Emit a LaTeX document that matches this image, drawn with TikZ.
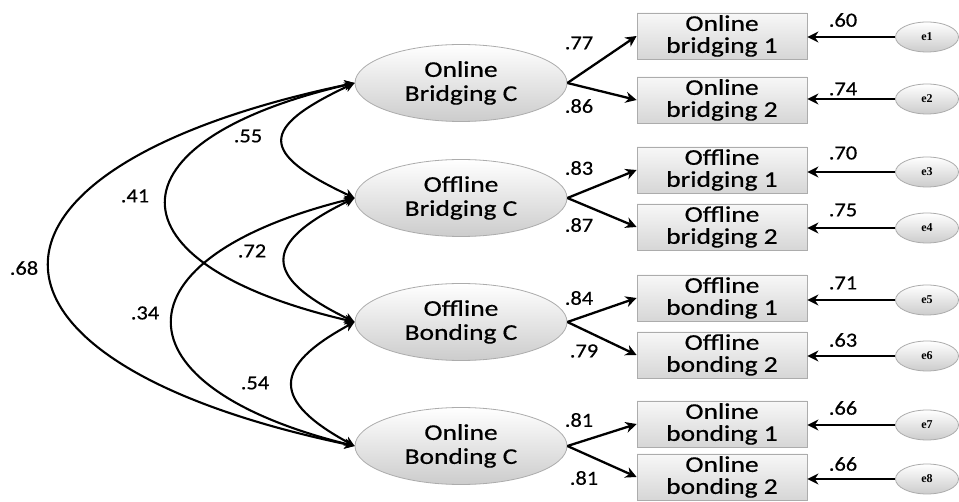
\documentclass[tikz,border=0pt]{standalone}
\usepackage{fontspec}
\setmainfont{Carlito}
\newfontfamily\wfont[FakeStretch=1.22,FakeBold=0.5]{Carlito}
\newfontfamily\lfont[FakeStretch=1.12,FakeBold=0.5]{Carlito}
\newfontfamily\efont{Liberation Serif}
\usetikzlibrary{shapes.geometric,arrows.meta}

\begin{document}
\begin{tikzpicture}[x=1pt,y=-1pt,
 latent/.style={ellipse, draw=gray!65, line width=0.8pt, top color=white, bottom color=gray!40, minimum width=212pt, minimum height=77pt, inner sep=0pt, align=center, font=\wfont\fontsize{22.5}{24}\selectfont},
 obs/.style={rectangle, draw=gray!65, line width=0.8pt, top color=gray!6, bottom color=gray!32, minimum width=170pt, minimum height=46pt, inner sep=0pt, align=center, font=\wfont\fontsize{22.5}{22}\selectfont},
 err/.style={ellipse, draw=gray!65, line width=0.8pt, top color=white, bottom color=gray!40, minimum width=63pt, minimum height=30pt, inner sep=0pt, font=\efont\bfseries\fontsize{12}{14}\selectfont},
 pathline/.style={-{Stealth[length=11pt,width=11pt,inset=3.5pt]}, line width=2.3pt},
 covline/.style={{Stealth[length=10pt,width=10pt,inset=3pt]}-{Stealth[length=10pt,width=10pt,inset=3pt]}, line width=2.1pt},
 lab/.style={font=\lfont\fontsize{20}{22}\selectfont, inner sep=0pt}
]
\fill[white] (0,0) rectangle (959,502);
\useasboundingbox (0,0) rectangle (959,502);

% latent variables
\node[latent] (L1) at (461,83) {Online\\Bridging C};
\node[latent] (L2) at (461,198) {Offline\\Bridging C};
\node[latent] (L3) at (461,322) {Offline\\Bonding C};
\node[latent] (L4) at (461,446) {Online\\Bonding C};

% observed variables
\node[obs] (B1) at (722,36) {Online\\bridging 1};
\node[obs] (B2) at (722,100) {Online\\bridging 2};
\node[obs] (B3) at (722,170) {Offline\\bridging 1};
\node[obs] (B4) at (722,227) {Offline\\bridging 2};
\node[obs] (B5) at (722,298) {Offline\\bonding 1};
\node[obs] (B6) at (722,355) {Offline\\bonding 2};
\node[obs] (B7) at (722,424) {Online\\bonding 1};
\node[obs] (B8) at (722,477) {Online\\bonding 2};

% error terms
\node[err] (e1) at (927,37) {e1};
\node[err] (e2) at (927,99) {e2};
\node[err] (e3) at (927,172) {e3};
\node[err] (e4) at (927,228) {e4};
\node[err] (e5) at (927,300) {e5};
\node[err] (e6) at (927,356) {e6};
\node[err] (e7) at (927,425) {e7};
\node[err] (e8) at (927,479) {e8};

% loadings
\foreach \l/\a/\b in {L1/B1/B2, L2/B3/B4, L3/B5/B6, L4/B7/B8}{
  \draw[pathline] (\l.east) -- (\a.west);
  \draw[pathline] (\l.east) -- (\b.west);
}
\foreach \i in {1,...,8}{
  \draw[pathline] (e\i.west) -- (B\i.east |- e\i.west);
}

% covariances
\draw[covline] (L1.west) .. controls +(-96,45) and +(-96,-45) .. (L2.west);
\draw[covline] (L2.west) .. controls +(-93,45) and +(-93,-45) .. (L3.west);
\draw[covline] (L3.west) .. controls +(-83,45) and +(-83,-45) .. (L4.west);
\draw[covline] (L1.west) .. controls +(-251,58) and +(-251,-58) .. (L3.west);
\draw[covline] (L2.west) .. controls +(-243,60) and +(-243,-60) .. (L4.west);
\draw[covline] (L1.west) .. controls +(-407,85) and +(-407,-85) .. (L4.west);

% labels
\node[lab] (c55) at (248,136) {.55};
\node[lab] (c41) at (135,196) {.41};
\node[lab] (c72) at (252,251) {.72};
\node[lab] (c68) at (24,268) {.68};
\node[lab] (c34) at (145,313) {.34};
\node[lab] (c54) at (255,383) {.54};

\node[lab] (l1) at (579,43) {.77};
\node[lab] (l2) at (579,106) {.86};
\node[lab] (l3) at (579,168) {.83};
\node[lab] (l4) at (579,225) {.87};
\node[lab] (l5) at (579,298) {.84};
\node[lab] (l6) at (584,351) {.79};
\node[lab] (l7) at (579,420) {.81};
\node[lab] (l8) at (584,478) {.81};

\node[lab] (r1) at (843,20) {.60};
\node[lab] (r2) at (843,89) {.74};
\node[lab] (r3) at (843,153) {.70};
\node[lab] (r4) at (843,210) {.75};
\node[lab] (r5) at (843,283) {.71};
\node[lab] (r6) at (843,340) {.63};
\node[lab] (r7) at (843,408) {.66};
\node[lab] (r8) at (843,464) {.66};
\end{tikzpicture}
\end{document}
